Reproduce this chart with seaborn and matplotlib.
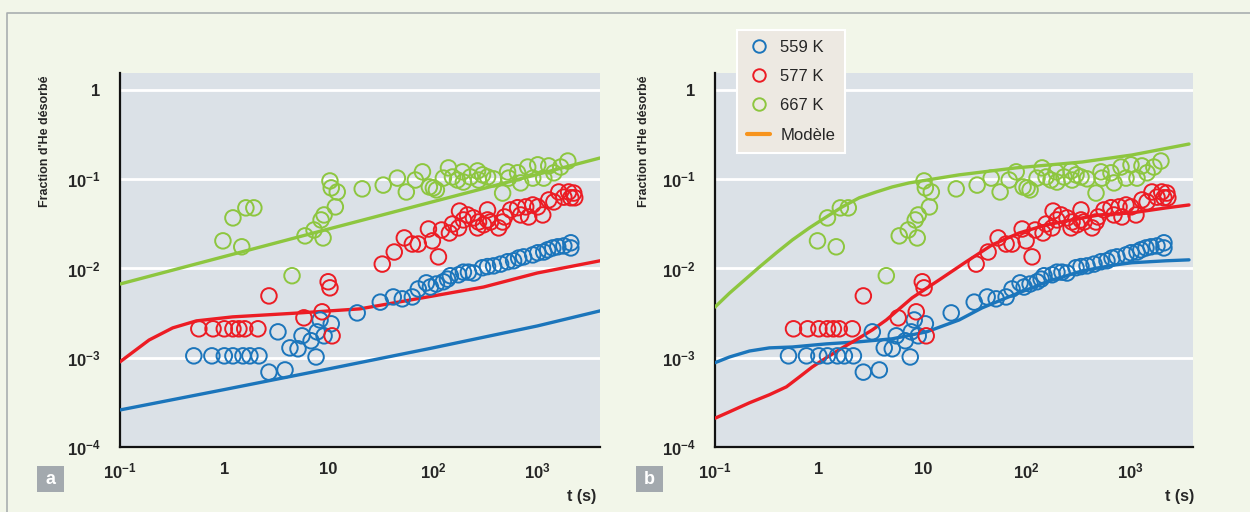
import matplotlib
matplotlib.use("Agg")
import matplotlib.pyplot as plt
from matplotlib.lines import Line2D
from matplotlib.patches import Rectangle
import seaborn as sns
import pandas as pd

# ---------------- data ----------------
t_559 = [0.51, 0.76, 1.0, 1.21, 1.51, 1.76, 2.15,
         2.68, 3.82, 3.27, 4.26, 5.09, 5.56, 6.79, 7.58, 7.76, 8.28, 9.05, 10.6,
         18.8, 31.3, 41.7, 50.9, 63.5, 72.4, 86.5, 94.6, 108, 126, 138, 147, 176, 196, 219, 245,
         299, 334, 382, 446, 520, 594, 664, 741, 906, 1012, 1156, 1260, 1410, 1574, 1800, 2100, 2100]
f_559 = [1.05e-3, 1.05e-3, 1.05e-3, 1.05e-3, 1.05e-3, 1.05e-3, 1.05e-3,
         6.9e-4, 7.3e-4, 1.95e-3, 1.29e-3, 1.26e-3, 1.76e-3, 1.55e-3, 1.02e-3, 1.95e-3, 2.65e-3, 1.76e-3, 2.4e-3,
         3.18e-3, 4.2e-3, 4.8e-3, 4.57e-3, 4.8e-3, 5.9e-3, 6.9e-3, 6.2e-3, 6.7e-3, 7.1e-3, 7.6e-3, 8.3e-3, 8.5e-3, 9.1e-3, 9.1e-3, 8.9e-3,
         1.02e-2, 1.05e-2, 1.07e-2, 1.12e-2, 1.19e-2, 1.22e-2, 1.31e-2, 1.35e-2, 1.42e-2, 1.5e-2, 1.53e-2, 1.62e-2, 1.7e-2, 1.75e-2, 1.79e-2, 1.94e-2, 1.7e-2]

t_577 = [0.57, 0.78, 1.0, 1.21, 1.38, 1.57, 2.1,
         2.68, 5.8, 8.66, 10.8, 9.9, 10.3,
         32.7, 42.6, 53.2, 63.5, 72.4, 90.6, 98.9, 113, 121, 144, 154, 176, 180, 196, 215,
         245, 268, 274, 306, 334, 334, 357, 427, 466, 487, 556, 649, 694, 776, 828,
         906, 1012, 1130, 1290, 1445, 1610, 1800, 2000, 2240, 2290, 2100]
f_577 = [2.11e-3, 2.11e-3, 2.11e-3, 2.11e-3, 2.11e-3, 2.11e-3, 2.11e-3,
         4.93e-3, 2.8e-3, 3.27e-3, 1.76e-3, 7.1e-3, 6.07e-3,
         1.12e-2, 1.53e-2, 2.2e-2, 1.88e-2, 1.88e-2, 2.77e-2, 2.04e-2, 1.35e-2, 2.7e-2, 2.5e-2, 3.15e-2, 2.85e-2, 4.4e-2, 3.5e-2, 3.98e-2,
         3.69e-2, 2.85e-2, 3.32e-2, 3.09e-2, 4.53e-2, 3.5e-2, 3.32e-2, 2.85e-2, 3.32e-2, 3.78e-2, 4.53e-2, 4.8e-2, 3.98e-2, 4.9e-2, 3.78e-2,
         5.15e-2, 4.9e-2, 3.98e-2, 5.86e-2, 5.57e-2, 7.2e-2, 6.3e-2, 7.2e-2, 7.0e-2, 6.2e-2, 6.2e-2]

t_667 = [0.97, 1.21, 1.47, 1.61, 1.92, 4.46, 5.94, 7.25, 8.47, 9.05, 8.85, 10.3, 10.6, 12.1, 11.6,
         21, 33.4, 45.6, 55.6, 67.9, 79.4, 92.5, 101, 108, 126, 141, 154, 172, 192, 196,
         229, 268, 274, 299, 334, 382, 466, 520, 532, 649, 694, 811, 906, 1012, 1156, 1290, 1445, 1680, 1965]
f_667 = [2.04e-2, 3.69e-2, 1.75e-2, 4.78e-2, 4.78e-2, 8.3e-3, 2.32e-2, 2.7e-2, 3.5e-2, 3.98e-2, 2.2e-2, 9.57e-2, 8.0e-2, 7.2e-2, 4.9e-2,
         7.8e-2, 8.6e-2, 0.103, 7.2e-2, 9.8e-2, 0.121, 8.2e-2, 8.0e-2, 7.6e-2, 0.103, 0.134, 0.106, 9.8e-2, 0.121, 9.3e-2,
         0.106, 0.124, 9.8e-2, 0.112, 0.106, 0.101, 7.0e-2, 0.121, 0.103, 0.118, 9.1e-2, 0.137, 0.103, 0.145, 0.103, 0.141, 0.118, 0.137, 0.16]

# model curves, panel a
ta_559 = [0.1, 1, 10, 100, 1000, 4000]
ma_559 = [2.6e-4, 4.4e-4, 7.5e-4, 1.29e-3, 2.27e-3, 3.35e-3]
ta_577 = [0.1, 0.19, 0.32, 0.54, 1.2, 5.3, 20, 70, 306, 1000, 4000]
ma_577 = [9.0e-4, 1.58e-3, 2.16e-3, 2.59e-3, 2.87e-3, 3.18e-3, 3.53e-3, 4.57e-3, 6.2e-3, 8.9e-3, 1.22e-2]
ta_667 = [0.1, 10, 4000]
ma_667 = [6.7e-3, 2.77e-2, 0.173]

# model curves, panel b
tb_559 = [0.1, 0.138, 0.215, 0.334, 0.556, 1.18, 2.45, 5.09, 10.9, 22.4, 37.3, 54.4, 79.4, 113, 164,
          240, 342, 498, 726, 1033, 2190, 3660]
mb_559 = [8.8e-4, 1.02e-3, 1.19e-3, 1.29e-3, 1.32e-3, 1.43e-3, 1.51e-3, 1.63e-3, 1.95e-3, 2.65e-3, 3.62e-3, 4.34e-3, 5.2e-3, 6.07e-3, 7.26e-3,
          8.26e-3, 9.4e-3, 1.02e-2, 1.1e-2, 1.16e-2, 1.22e-2, 1.25e-2]
tb_577 = [0.1, 0.138, 0.215, 0.334, 0.487, 0.65, 0.866, 1.18, 1.68, 2.29, 3.27, 4.46, 7.9, 14.4, 26.2, 46.6,
          84.7, 154, 274, 498, 1033, 2190, 3660]
mb_577 = [2.1e-4, 2.48e-4, 3.13e-4, 3.85e-4, 4.72e-4, 6.1e-4, 7.9e-4, 1.0e-3, 1.29e-3, 1.59e-3, 2.05e-3, 2.65e-3, 4.69e-3, 7.45e-3, 1.19e-2, 1.84e-2,
          2.5e-2, 3.08e-2, 3.5e-2, 3.98e-2, 4.2e-2, 4.77e-2, 5.15e-2]
tb_667 = [0.1, 0.138, 0.184, 0.268, 0.39, 0.556, 0.81, 1.18, 1.68, 2.45, 3.57, 5.09, 7.42, 22.4, 79, 342, 1035, 3660]
mb_667 = [3.7e-3, 5.3e-3, 7.1e-3, 1.04e-2, 1.5e-2, 2.09e-2, 2.85e-2, 3.78e-2, 4.9e-2, 6.2e-2, 7.2e-2, 8.2e-2, 9.1e-2, 0.112, 0.134, 0.156, 0.187, 0.248]

labels = ["559 K", "577 K", "667 K"]
model_label = "Modèle"
x_ticks = [0.1, 1, 10, 100, 1000]
x_ticklabels = [r"$\mathbf{10^{-1}}$", "1", "10", r"$\mathbf{10^{2}}$", r"$\mathbf{10^{3}}$"]
y_ticks = [1e-4, 1e-3, 1e-2, 1e-1, 1]
y_ticklabels = [r"$\mathbf{10^{-4}}$", r"$\mathbf{10^{-3}}$", r"$\mathbf{10^{-2}}$", r"$\mathbf{10^{-1}}$", "1"]
ylabel = "Fraction d'He désorbé"
xlabel = "t (s)"
panel_names = ["a", "b"]

# ---------------- style ----------------
C_BLUE = "#1b75bb"
C_RED = "#ec1c24"
C_GREEN = "#8dc63f"
C_ORANGE = "#f7941d"
FIG_BG = "#f2f6e9"
AX_BG = "#dbe1e7"

sns.set_theme(style="white")
plt.rcParams["font.family"] = ["Liberation Sans", "DejaVu Sans"]
plt.rcParams["mathtext.fontset"] = "custom"
plt.rcParams["mathtext.rm"] = "Liberation Sans"
plt.rcParams["mathtext.bf"] = "Liberation Sans:bold"
plt.rcParams["mathtext.it"] = "Liberation Sans:italic"

fig = plt.figure(figsize=(12.5, 5.12), dpi=100, facecolor=FIG_BG)
W, H = 1250, 512

# outer frame (top and left edges only visible)
fig.lines.append(Line2D([7 / W, 7 / W, 1.0], [0.0, 1 - 12.5 / H, 1 - 12.5 / H], transform=fig.transFigure,
                        color="#a9aeb0", lw=1.2))

ax_a = fig.add_axes([120 / W, 1 - 447 / H, 480 / W, 374 / H])
ax_b = fig.add_axes([715 / W, 1 - 447 / H, 478 / W, 374 / H])

series = [(t_559, f_559, C_BLUE), (t_577, f_577, C_RED), (t_667, f_667, C_GREEN)]
models_a = [(ta_559, ma_559, C_BLUE), (ta_577, ma_577, C_RED), (ta_667, ma_667, C_GREEN)]
models_b = [(tb_559, mb_559, C_BLUE), (tb_577, mb_577, C_RED), (tb_667, mb_667, C_GREEN)]

for ax, models, xl_px, name, box_x in [(ax_a, models_a, 582, panel_names[0], 37),
                                        (ax_b, models_b, 1180, panel_names[1], 636)]:
    ax.set_facecolor(AX_BG)
    ax.set_xscale("log")
    ax.set_yscale("log")
    for (tm, fm, c) in models:
        dfm = pd.DataFrame({"t": tm, "f": fm})
        sns.lineplot(data=dfm, x="t", y="f", ax=ax, color=c, lw=2.4, estimator=None, sort=True, zorder=3)
    for (ts, fs, c) in series:
        dfs = pd.DataFrame({"t": ts, "f": fs})
        sns.scatterplot(data=dfs, x="t", y="f", ax=ax, marker="o", s=125, facecolor="none",
                        edgecolor=c, linewidth=1.4, zorder=4)
    ax.set_xlim(0.1, 4000)
    ax.set_ylim(1e-4, 1.55)
    ax.set_xticks(x_ticks)
    ax.set_xticklabels(x_ticklabels, fontsize=12, fontweight="bold")
    ax.set_yticks(y_ticks)
    ax.set_yticklabels(y_ticklabels, fontsize=12, fontweight="bold")
    ax.minorticks_off()
    ax.tick_params(axis="x", direction="inout", length=13, width=1.2, color="#222222", pad=4)
    ax.tick_params(axis="y", direction="inout", length=16, width=1.2, color="#555555", pad=6)
    ax.grid(axis="y", which="major", color="white", lw=2)
    ax.grid(axis="x", visible=False)
    ax.set_axisbelow(True)
    for s in ["top", "right"]:
        ax.spines[s].set_visible(False)
    for s in ["left", "bottom"]:
        ax.spines[s].set_color("#111111")
        ax.spines[s].set_linewidth(1.6)
    ax.set_xlabel("")
    ax.set_ylabel("")
    # axis labels
    fig.text(xl_px / W, 1 - 497 / H, xlabel, fontsize=11.5, fontweight="bold", ha="center", va="center")
    fig.text((box_x + 8) / W, 1 - 141 / H, ylabel, fontsize=9, fontweight="bold",
             rotation=90, ha="center", va="center")
    # panel letter box
    fig.patches.append(Rectangle((box_x / W, 1 - 492 / H), 27 / W, 26 / H, transform=fig.transFigure,
                                 facecolor="#a3a9ae", edgecolor="none", zorder=1))
    fig.text((box_x + 13.5) / W, 1 - 479 / H, name, fontsize=13, fontweight="bold", color="white",
             ha="center", va="center")

# legend
handles = [Line2D([], [], lw=0, marker="o", ms=9, mfc="none", mec=c, mew=1.4) for c in (C_BLUE, C_RED, C_GREEN)]
handles.append(Line2D([], [], color=C_ORANGE, lw=3))
leg = fig.legend(handles, labels + [model_label], loc="upper left", bbox_to_anchor=(737 / W, 1 - 30 / H),
                 bbox_transform=fig.transFigure, frameon=True, fancybox=False, fontsize=12,
                 labelspacing=0.85, handlelength=1.4, handletextpad=0.6, borderpad=0.6, borderaxespad=0)
leg.get_frame().set_facecolor("#ede9e2")
leg.get_frame().set_edgecolor("white")
leg.get_frame().set_linewidth(1.5)
leg.get_frame().set_alpha(1)

fig.savefig("out.png", dpi=100, facecolor=FIG_BG)
